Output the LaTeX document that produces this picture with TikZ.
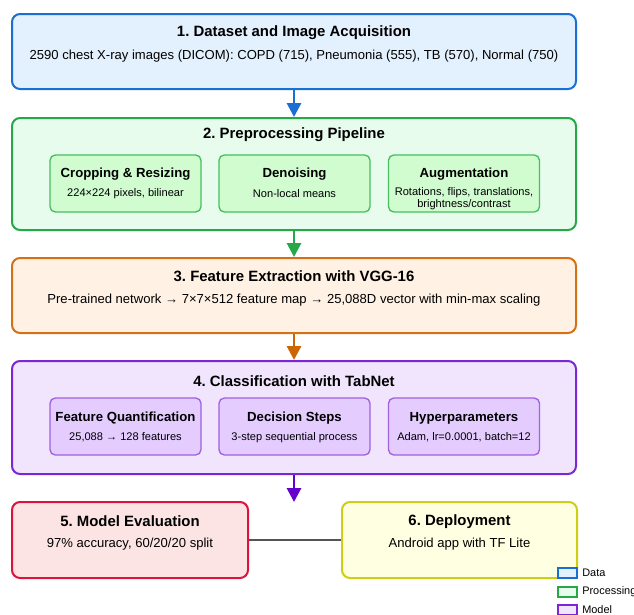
\documentclass[tikz,border=0pt]{standalone}
\usepackage{fontspec}
\setmainfont{Liberation Sans}
\usetikzlibrary{arrows.meta}
\frenchspacing

% stage colours
\definecolor{dataB}{RGB}{26,110,212}
\definecolor{dataF}{RGB}{227,240,253}
\definecolor{procB}{RGB}{36,168,72}
\definecolor{procF}{RGB}{231,252,237}
\definecolor{procSubF}{RGB}{208,252,208}
\definecolor{procSubB}{RGB}{72,190,96}
\definecolor{featB}{RGB}{214,112,20}
\definecolor{featF}{RGB}{255,242,229}
\definecolor{featA}{RGB}{204,102,0}
\definecolor{modB}{RGB}{122,40,212}
\definecolor{modF}{RGB}{241,228,253}
\definecolor{modSubF}{RGB}{228,204,255}
\definecolor{modSubB}{RGB}{160,96,224}
\definecolor{modA}{RGB}{102,0,204}
\definecolor{evalB}{RGB}{220,20,60}
\definecolor{evalF}{RGB}{253,228,228}
\definecolor{depB}{RGB}{206,206,20}
\definecolor{depF}{RGB}{255,255,225}
\definecolor{linkC}{RGB}{85,85,85}

\tikzset{
  stage/.style={draw, line width=1.5pt, rounded corners=6pt, inner sep=0pt},
  substage/.style={draw, line width=1pt, rounded corners=4pt, inner sep=0pt,
    minimum width=151*0.75pt, minimum height=57*0.75pt},
  ttl/.style={font=\fontsize{11.2}{13}\selectfont\bfseries, inner sep=0pt},
  txt/.style={font=\fontsize{9.8}{12}\selectfont, inner sep=0pt},
  subttl/.style={font=\fontsize{9.9}{12}\selectfont\bfseries, inner sep=0pt},
  subtxt/.style={font=\fontsize{8.3}{9}\selectfont, inner sep=0pt, align=center},
  flow/.style={line width=2.2pt, -{Triangle[width=10.5pt,length=10.5pt]}},
  legbox/.style={draw, line width=0.8pt, minimum width=19*0.75pt, minimum height=10*0.75pt, inner sep=0pt},
  legtxt/.style={font=\fontsize{8.2}{9}\selectfont, inner sep=0pt, anchor=west}
}

\begin{document}
\begin{tikzpicture}[x=0.75pt, y=-0.75pt]
\useasboundingbox (0,0) rectangle (634,614);

% 1. data
\node[stage, draw=dataB, fill=dataF, minimum width=564*0.75pt, minimum height=75*0.75pt] (b1) at (294,51.5) {};
\node[ttl] (t1) at (294,33) {1. Dataset and Image Acquisition};
\node[txt] (s1) at (294,56) {2590 chest X-ray images (DICOM): COPD (715), Pneumonia (555), TB (570), Normal (750)};

% 2. preprocessing
\node[stage, draw=procB, fill=procF, minimum width=564*0.75pt, minimum height=112*0.75pt] (b2) at (294,174) {};
\node[ttl] (t2) at (294,135) {2. Preprocessing Pipeline};
\node[substage, draw=procSubB, fill=procSubF] (p1) at (125.5,183.5) {};
\node[substage, draw=procSubB, fill=procSubF] (p2) at (294.5,183.5) {};
\node[substage, draw=procSubB, fill=procSubF] (p3) at (464,183.5) {};
\node[subttl] (p1t) at (125.5,174) {Cropping \& Resizing};
\node[subtxt] (p1s) at (125.5,193.5) {224×224 pixels, bilinear};
\node[subttl] (p2t) at (294.5,174) {Denoising};
\node[subtxt] (p2s) at (294.5,193.5) {Non-local means};
\node[subttl] (p3t) at (464,174) {Augmentation};
\node[subtxt] (p3s) at (464,199) {Rotations, flips, translations,\\brightness/contrast};

% 3. feature extraction
\node[stage, draw=featB, fill=featF, minimum width=564*0.75pt, minimum height=75*0.75pt] (b3) at (294,295.5) {};
\node[ttl] (t3) at (294,276) {3. Feature Extraction with VGG-16};
\node[txt] (s3) at (294,300.5) {Pre-trained network → 7×7×512 feature map → 25,088D vector with min-max scaling};

% 4. classification
\node[stage, draw=modB, fill=modF, minimum width=564*0.75pt, minimum height=113*0.75pt] (b4) at (294,417.5) {};
\node[ttl] (t4) at (294,381) {4. Classification with TabNet};
\node[substage, draw=modSubB, fill=modSubF] (m1) at (125.5,426.5) {};
\node[substage, draw=modSubB, fill=modSubF] (m2) at (294.5,426.5) {};
\node[substage, draw=modSubB, fill=modSubF] (m3) at (464,426.5) {};
\node[subttl] (m1t) at (125.5,418) {Feature Quantification};
\node[subtxt] (m1s) at (125.5,437.5) {25,088 → 128 features};
\node[subttl] (m2t) at (294.5,418) {Decision Steps};
\node[subtxt] (m2s) at (294.5,437.5) {3-step sequential process};
\node[subttl] (m3t) at (464,418) {Hyperparameters};
\node[subtxt] (m3s) at (464,437.5) {Adam, lr=0.0001, batch=12};

% 5. evaluation and 6. deployment
\node[stage, draw=evalB, fill=evalF, minimum width=236*0.75pt, minimum height=76*0.75pt] (b5) at (130,540) {};
\node[ttl] (t5) at (130,521.5) {5. Model Evaluation};
\node[txt] (s5) at (130,544.5) {97\% accuracy, 60/20/20 split};
\node[stage, draw=depB, fill=depF, minimum width=235*0.75pt, minimum height=76*0.75pt] (b6) at (459.5,540) {};
\node[ttl] (t6) at (459.5,521.5) {6. Deployment};
\node[txt] (s6) at (459.5,544.5) {Android app with TF Lite};

% connectors
\coordinate (e4) at (294,502);
\draw[flow, dataB] (b1.south) -- (b2.north);
\draw[flow, procB] (b2.south) -- (b3.north);
\draw[flow, featA] (b3.south) -- (b4.north);
\draw[flow, modA] (b4.south) -- (e4);
\draw[linkC, line width=1.6pt] (b5.east) -- (b6.west);

% legend
\node[legbox, draw=dataB, fill=dataF] (l1) at (567.5,573) {};
\node[legtxt] (l1t) at (582,573) {Data};
\node[legbox, draw=procB, fill=procF] (l2) at (567.5,592) {};
\node[legtxt] (l2t) at (582,592) {Processing};
\node[legbox, draw=modB, fill=modF] (l3) at (567.5,610) {};
\node[legtxt] (l3t) at (582,610) {Model};
\end{tikzpicture}
\end{document}
